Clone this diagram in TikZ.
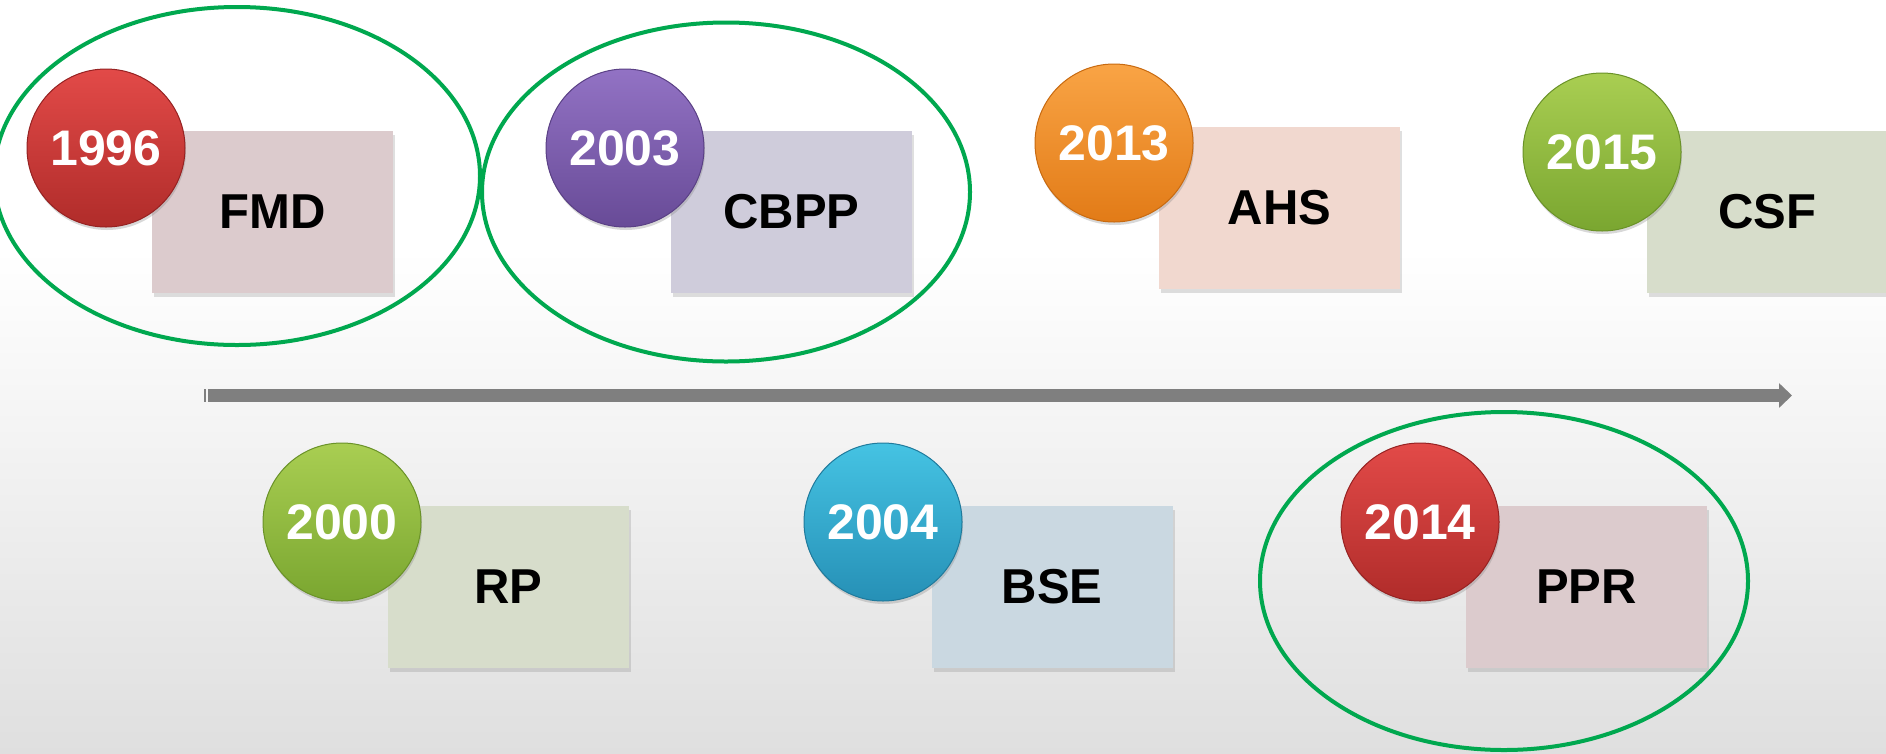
\documentclass[tikz,border=0pt]{standalone}
\usepackage{fontspec}
\setmainfont{Liberation Sans}
\usetikzlibrary{shadows,arrows.meta,shapes.geometric}
\definecolor{bgbot}{gray}{0.875}
\definecolor{arrowgray}{HTML}{7F7F7F}
\definecolor{hlgreen}{HTML}{00A84F}
\definecolor{boxpink}{HTML}{DCCBCD}
\definecolor{boxlav}{HTML}{CFCCDB}
\definecolor{boxpeach}{HTML}{F1D8CF}
\definecolor{boxgreen}{HTML}{D7DDCB}
\definecolor{boxblue}{HTML}{CAD8E1}
\definecolor{redtop}{HTML}{E24A48}
\definecolor{redbot}{HTML}{B02C2A}
\definecolor{redrim}{HTML}{962222}
\definecolor{purtop}{HTML}{9272C4}
\definecolor{purbot}{HTML}{684B97}
\definecolor{purrim}{HTML}{5A4085}
\definecolor{ortop}{HTML}{F9A445}
\definecolor{orbot}{HTML}{E27B17}
\definecolor{orrim}{HTML}{C86A10}
\definecolor{grtop}{HTML}{A9CE52}
\definecolor{grbot}{HTML}{7AA630}
\definecolor{grrim}{HTML}{6A9228}
\definecolor{bltop}{HTML}{45C3E3}
\definecolor{blbot}{HTML}{2690B6}
\definecolor{blrim}{HTML}{1F7A9C}
\begin{document}
\begin{tikzpicture}[x=1pt,y=-1pt,
  year/.style n args={3}{circle, minimum size=158pt, inner sep=0pt,
    top color=#1, bottom color=#2, draw=#3, line width=1pt,
    text=white, font=\bfseries\fontsize{50}{60}\selectfont,
    drop shadow={shadow xshift=1pt, shadow yshift=-3pt, opacity=0.3}},
  disease/.style={rectangle, minimum width=241pt, minimum height=162pt,
    inner sep=0pt, fill=#1, text=black,
    font=\bfseries\fontsize{49}{58}\selectfont,
    drop shadow={shadow xshift=2pt, shadow yshift=-4pt, opacity=0.25}},
  hl/.style={ellipse, draw=hlgreen, line width=4pt, inner sep=0pt},
  timeline/.style={draw=arrowgray, line width=13pt,
    -{Triangle[length=13pt, width=24pt]}}
]
% background
\useasboundingbox (0,0) rectangle (1886,753);
\fill[white] (0,0) rectangle (1886,753);
\shade[top color=white, bottom color=bgbot] (0,250) rectangle (1886,753);

% timeline arrow
\coordinate (tstart) at (208,395.5);
\coordinate (tend) at (1792,395.5);
\fill[arrowgray] (204,389) rectangle (206,402);
\draw[timeline] (tstart) -- (tend);

% boxes (top row)
\node[disease=boxpink]  (fmd)  at (272.5,212)  {FMD};
\node[disease=boxlav]   (cbpp) at (791.5,212)  {CBPP};
\node[disease=boxpeach] (ahs)  at (1279.5,207.5) {AHS};
\node[disease=boxgreen] (csf)  at (1767.5,212) {CSF};
% boxes (bottom row)
\node[disease=boxgreen] (rp)   at (508.5,587)  {RP};
\node[disease=boxblue]  (bse)  at (1052,587)   {BSE};
\node[disease=boxpink]  (ppr)  at (1586.5,586.5) {PPR};

% year badges
\node[year={redtop}{redbot}{redrim}] (y1996) at (106,148)  {1996};
\node[year={purtop}{purbot}{purrim}] (y2003) at (625,148)  {2003};
\node[year={ortop}{orbot}{orrim}]    (y2013) at (1114,143) {2013};
\node[year={grtop}{grbot}{grrim}]    (y2015) at (1602,152) {2015};
\node[year={grtop}{grbot}{grrim}]    (y2000) at (342,522)  {2000};
\node[year={bltop}{blbot}{blrim}]    (y2004) at (883,522)  {2004};
\node[year={redtop}{redbot}{redrim}] (y2014) at (1420,522) {2014};

% green highlight ellipses
\node[hl, minimum width=486pt, minimum height=338pt] (e1) at (237,176) {};
\node[hl, minimum width=488pt, minimum height=339pt] (e2) at (726,192) {};
\node[hl, minimum width=488pt, minimum height=338pt] (e3) at (1504,581) {};
\end{tikzpicture}
\end{document}
